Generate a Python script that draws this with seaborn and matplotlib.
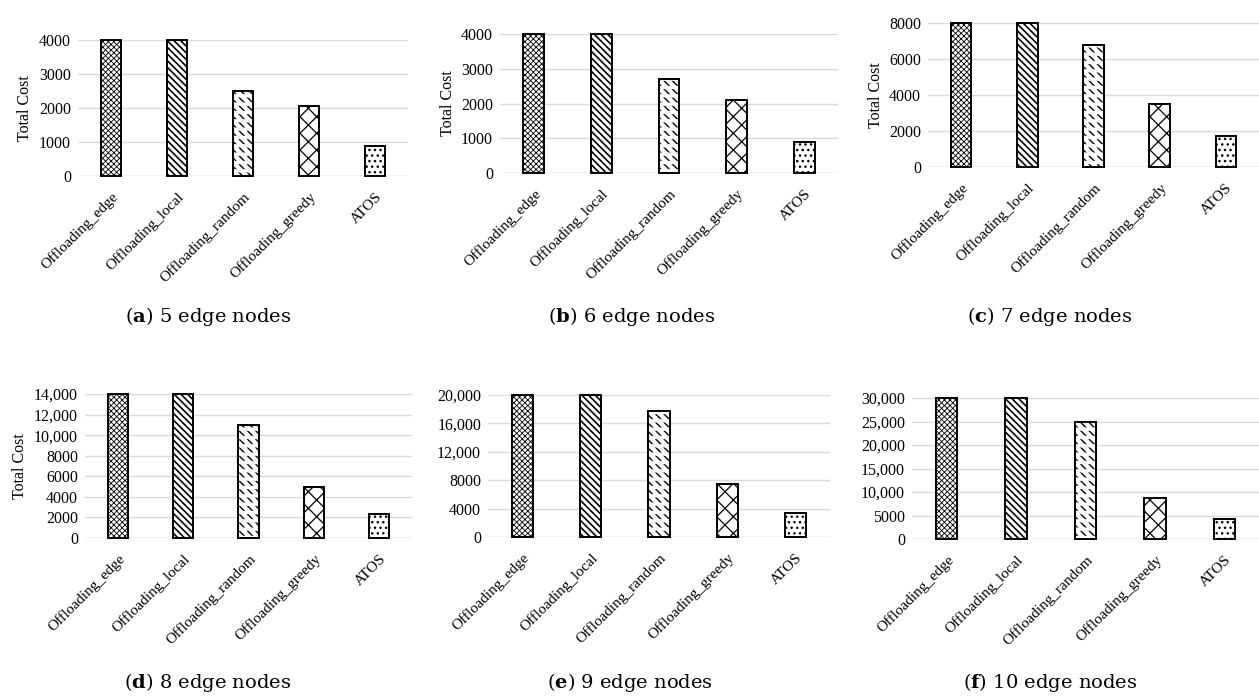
import matplotlib
matplotlib.use('Agg')
import matplotlib.pyplot as plt
import seaborn as sns

# data
methods = ['Offloading_edge', 'Offloading_local', 'Offloading_random',
           'Offloading_greedy', 'ATOS']
cost_5 = [4000, 4000, 2500, 2050, 870]
cost_6 = [4000, 4000, 2700, 2100, 900]
cost_7 = [8000, 8000, 6750, 3500, 1700]
cost_8 = [14000, 14000, 11000, 4950, 2350]
cost_9 = [20000, 20000, 17800, 7400, 3450]
cost_10 = [30000, 30000, 25000, 8750, 4150]
ticks_5 = [0, 1000, 2000, 3000, 4000]
ticks_6 = [0, 1000, 2000, 3000, 4000]
ticks_7 = [0, 2000, 4000, 6000, 8000]
ticks_8 = [0, 2000, 4000, 6000, 8000, 10000, 12000, 14000]
ticks_9 = [0, 4000, 8000, 12000, 16000, 20000]
ticks_10 = [0, 5000, 10000, 15000, 20000, 25000, 30000]
letters = ['a', 'b', 'c', 'd', 'e', 'f']
nodes = [5, 6, 7, 8, 9, 10]

hatches = ['xxxxxx', '\\\\\\\\\\', '\\\\\\\\', 'xx', '...']
hatch_lw = [0.6, 1.2, 1.0, 0.9, 1.0]

sns.set_theme(style='white')
plt.rcParams['font.family'] = ['Liberation Serif', 'DejaVu Serif']
plt.rcParams['mathtext.fontset'] = 'dejavuserif'
plt.rcParams['text.color'] = 'black'
plt.rcParams['xtick.color'] = 'black'
plt.rcParams['ytick.color'] = 'black'
plt.rcParams['axes.labelcolor'] = 'black'
plt.rcParams['hatch.linewidth'] = 0.9

W, H = 1259, 698
# axes boxes in pixels: left, right, top, bottom
boxes = [(78, 408, 40, 176), (500, 838, 34, 173), (928, 1259, 23, 167),
         (85, 412, 394, 538), (488, 830, 395, 537), (912, 1259, 398, 539)]
captions_xy = [(208, 317), (632, 317), (1050, 317),
               (208, 683), (630, 683), (1050, 683)]

fig = plt.figure(figsize=(W / 100, H / 100), dpi=100)

def fmt(v):
    return f'{v:,}' if v >= 10000 else f'{v}'

data = [(cost_5, ticks_5), (cost_6, ticks_6), (cost_7, ticks_7),
        (cost_8, ticks_8), (cost_9, ticks_9), (cost_10, ticks_10)]

for i, ((vals, ticks), (l, r, t, b)) in enumerate(zip(data, boxes)):
    ax = fig.add_axes([l / W, 1 - b / H, (r - l) / W, (b - t) / H])
    sns.barplot(x=methods, y=vals, color='white', edgecolor='black',
                linewidth=1.4, width=0.31, ax=ax, zorder=3)
    for p, h, hl in zip(ax.patches, hatches, hatch_lw):
        p.set_hatch(h)
        p.set_facecolor('white')
        if hasattr(p, 'set_hatch_linewidth'):
            p.set_hatch_linewidth(hl)
        p.set_clip_on(False)
    # break the random bar's diagonals into short dashes
    rnd = ax.patches[2]
    gap = ax.bar(rnd.get_x() + rnd.get_width() / 2, rnd.get_height(),
                 width=rnd.get_width(), fill=False, hatch='--',
                 edgecolor='white', linewidth=0, zorder=4)[0]
    if hasattr(gap, 'set_hatch_linewidth'):
        gap.set_hatch_linewidth(2.4)
    ax.bar(rnd.get_x() + rnd.get_width() / 2, rnd.get_height(),
           width=rnd.get_width(), fill=False, edgecolor='black',
           linewidth=1.4, zorder=5, clip_on=False)

    ax.set_ylim(0, ticks[-1])
    ax.set_xlim(-0.5, 4.5)
    ax.set_yticks(ticks)
    ax.set_yticklabels([fmt(v) for v in ticks], fontsize=11.5)
    ax.yaxis.grid(True, color='#d9d9d9', lw=1.0, zorder=0)
    ax.set_axisbelow(True)
    for s in ax.spines.values():
        s.set_visible(False)
    ax.tick_params(axis='y', length=0, pad=5)
    ax.tick_params(axis='x', length=0, pad=10)
    ax.set_xticks(range(len(methods)))
    ax.set_xticklabels(methods, rotation=45, ha='right',
                       rotation_mode='anchor', fontsize=11)
    if i < 4:
        ax.set_ylabel('Total Cost', fontsize=11.5)
    else:
        ax.set_ylabel('')
    ax.axhline(0, color='#d9d9d9', lw=1.0, zorder=1)

    cx, cy = captions_xy[i]
    fig.text(cx / W, 1 - cy / H,
             rf'($\mathbf{{{letters[i]}}}$) {nodes[i]} edge nodes',
             ha='center', va='center', fontsize=14, family='DejaVu Serif')

fig.savefig('out.png', dpi=100)
